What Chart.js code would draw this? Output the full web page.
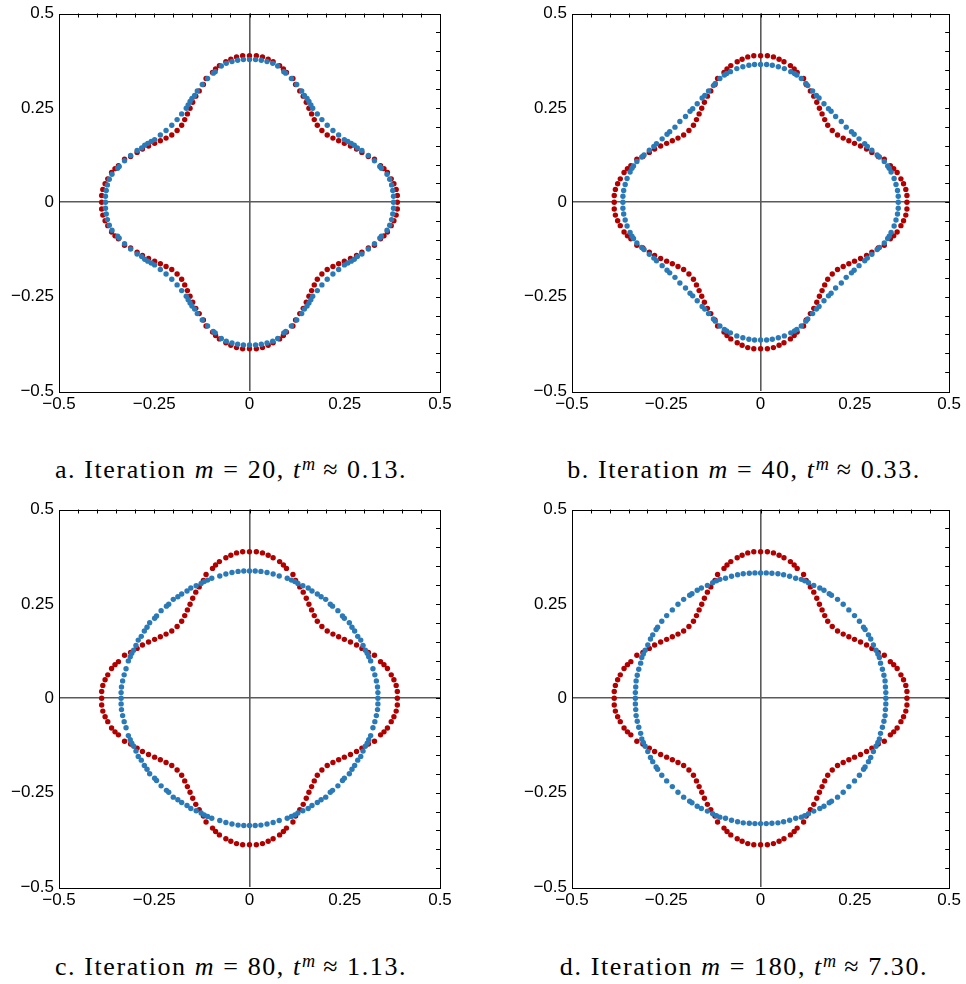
<!DOCTYPE html>
<html><head><meta charset="utf-8">
<script src="https://cdn.jsdelivr.net/npm/chart.js@4/dist/chart.umd.min.js"></script>
<style>
html,body{margin:0;padding:0;background:#fff;}
body{width:966px;height:984px;position:relative;overflow:hidden;}
canvas{position:absolute;}
.cap{position:absolute;width:480px;text-align:center;font-family:"Liberation Serif","Times New Roman",serif;font-size:26px;letter-spacing:1.6px;color:#000;white-space:nowrap;line-height:26px;}
.cap sup{font-size:0.7em;line-height:0;vertical-align:0.45em;letter-spacing:0;}
</style></head><body>
<canvas id="pa" width="483" height="420" style="left:0;top:0"></canvas>
<canvas id="pb" width="483" height="420" style="left:483px;top:0"></canvas>
<canvas id="pc" width="483" height="420" style="left:0;top:496px"></canvas>
<canvas id="pd" width="483" height="420" style="left:483px;top:496px"></canvas>
<div id="ca" class="cap" style="left:-9px;top:457px"></div>
<div id="cb" class="cap" style="left:504px;top:457px"></div>
<div id="cc" class="cap" style="left:-9px;top:954px"></div>
<div id="cd" class="cap" style="left:504px;top:954px"></div>
<script>
// ---- tick values / labels ----
const tickValues = [-0.5, -0.25, 0, 0.25, 0.5];
const tickLabels = ['\u22120.5', '\u22120.25', '0', '0.25', '0.5'];
const minorTickValues = [-0.45,-0.4,-0.35,-0.3,-0.25,-0.2,-0.15,-0.1,-0.05,0,0.05,0.1,0.15,0.2,0.25,0.3,0.35,0.4,0.45];

// ---- captions ----
const panelLetters = ['a', 'b', 'c', 'd'];
const iterationNumbers = [20, 40, 80, 180];
const iterationTimes = ['0.13', '0.33', '1.13', '7.30'];

// ---- initial shape (red), same in all panels ----
const initialShape = [
[0.388,0],[0.388,0.018],[0.385,0.034],[0.379,0.049],[0.372,0.062],[0.362,0.079],[0.353,0.089],[0.344,0.097],[0.328,0.114],[0.312,0.121],[0.295,0.132],[0.281,0.141],[0.265,0.149],[0.249,0.156],[0.234,0.163],[0.219,0.170],[0.204,0.178],[0.190,0.190],[0.178,0.204],[0.170,0.219],[0.163,0.234],[0.156,0.249],[0.149,0.265],[0.141,0.281],[0.132,0.295],[0.121,0.312],[0.114,0.328],[0.097,0.344],[0.089,0.353],[0.079,0.362],[0.062,0.372],[0.049,0.379],[0.034,0.385],[0.018,0.388],
[0,0.388],[-0.018,0.388],[-0.034,0.385],[-0.049,0.379],[-0.062,0.372],[-0.079,0.362],[-0.089,0.353],[-0.097,0.344],[-0.114,0.328],[-0.121,0.312],[-0.132,0.295],[-0.141,0.281],[-0.149,0.265],[-0.156,0.249],[-0.163,0.234],[-0.170,0.219],[-0.178,0.204],[-0.190,0.190],[-0.204,0.178],[-0.219,0.170],[-0.234,0.163],[-0.249,0.156],[-0.265,0.149],[-0.281,0.141],[-0.295,0.132],[-0.312,0.121],[-0.328,0.114],[-0.344,0.097],[-0.353,0.089],[-0.362,0.079],[-0.372,0.062],[-0.379,0.049],[-0.385,0.034],[-0.388,0.018],
[-0.388,0],[-0.388,-0.018],[-0.385,-0.034],[-0.379,-0.049],[-0.372,-0.062],[-0.362,-0.079],[-0.353,-0.089],[-0.344,-0.097],[-0.328,-0.114],[-0.312,-0.121],[-0.295,-0.132],[-0.281,-0.141],[-0.265,-0.149],[-0.249,-0.156],[-0.234,-0.163],[-0.219,-0.170],[-0.204,-0.178],[-0.190,-0.190],[-0.178,-0.204],[-0.170,-0.219],[-0.163,-0.234],[-0.156,-0.249],[-0.149,-0.265],[-0.141,-0.281],[-0.132,-0.295],[-0.121,-0.312],[-0.114,-0.328],[-0.097,-0.344],[-0.089,-0.353],[-0.079,-0.362],[-0.062,-0.372],[-0.049,-0.379],[-0.034,-0.385],[-0.018,-0.388],
[0,-0.388],[0.018,-0.388],[0.034,-0.385],[0.049,-0.379],[0.062,-0.372],[0.079,-0.362],[0.089,-0.353],[0.097,-0.344],[0.114,-0.328],[0.121,-0.312],[0.132,-0.295],[0.141,-0.281],[0.149,-0.265],[0.156,-0.249],[0.163,-0.234],[0.170,-0.219],[0.178,-0.204],[0.190,-0.190],[0.204,-0.178],[0.219,-0.170],[0.234,-0.163],[0.249,-0.156],[0.265,-0.149],[0.281,-0.141],[0.295,-0.132],[0.312,-0.121],[0.328,-0.114],[0.344,-0.097],[0.353,-0.089],[0.362,-0.079],[0.372,-0.062],[0.379,-0.049],[0.385,-0.034],[0.388,-0.018]
];

// ---- iterate m = 20 (blue, panel a) ----
const iterationM20 = [
[0.378,0],[0.378,0.016],[0.376,0.031],[0.373,0.046],[0.368,0.061],[0.361,0.074],[0.346,0.090],[0.342,0.095],[0.328,0.110],[0.312,0.124],[0.295,0.137],[0.283,0.144],[0.275,0.151],[0.267,0.156],[0.258,0.161],[0.249,0.166],[0.234,0.178],[0.219,0.190],[0.204,0.204],[0.190,0.219],[0.178,0.234],[0.166,0.249],[0.161,0.258],[0.156,0.267],[0.151,0.275],[0.144,0.283],[0.137,0.295],[0.124,0.312],[0.110,0.328],[0.095,0.342],[0.090,0.346],[0.074,0.361],[0.061,0.368],[0.046,0.373],[0.031,0.376],[0.016,0.378],
[0,0.378],[-0.016,0.378],[-0.031,0.376],[-0.046,0.373],[-0.061,0.368],[-0.074,0.361],[-0.090,0.346],[-0.095,0.342],[-0.110,0.328],[-0.124,0.312],[-0.137,0.295],[-0.144,0.283],[-0.151,0.275],[-0.156,0.267],[-0.161,0.258],[-0.166,0.249],[-0.178,0.234],[-0.190,0.219],[-0.204,0.204],[-0.219,0.190],[-0.234,0.178],[-0.249,0.166],[-0.258,0.161],[-0.267,0.156],[-0.275,0.151],[-0.283,0.144],[-0.295,0.137],[-0.312,0.124],[-0.328,0.110],[-0.342,0.095],[-0.346,0.090],[-0.361,0.074],[-0.368,0.061],[-0.373,0.046],[-0.376,0.031],[-0.378,0.016],
[-0.378,0],[-0.378,-0.016],[-0.376,-0.031],[-0.373,-0.046],[-0.368,-0.061],[-0.361,-0.074],[-0.346,-0.090],[-0.342,-0.095],[-0.328,-0.110],[-0.312,-0.124],[-0.295,-0.137],[-0.283,-0.144],[-0.275,-0.151],[-0.267,-0.156],[-0.258,-0.161],[-0.249,-0.166],[-0.234,-0.178],[-0.219,-0.190],[-0.204,-0.204],[-0.190,-0.219],[-0.178,-0.234],[-0.166,-0.249],[-0.161,-0.258],[-0.156,-0.267],[-0.151,-0.275],[-0.144,-0.283],[-0.137,-0.295],[-0.124,-0.312],[-0.110,-0.328],[-0.095,-0.342],[-0.090,-0.346],[-0.074,-0.361],[-0.061,-0.368],[-0.046,-0.373],[-0.031,-0.376],[-0.016,-0.378],
[0,-0.378],[0.016,-0.378],[0.031,-0.376],[0.046,-0.373],[0.061,-0.368],[0.074,-0.361],[0.090,-0.346],[0.095,-0.342],[0.110,-0.328],[0.124,-0.312],[0.137,-0.295],[0.144,-0.283],[0.151,-0.275],[0.156,-0.267],[0.161,-0.258],[0.166,-0.249],[0.178,-0.234],[0.190,-0.219],[0.204,-0.204],[0.219,-0.190],[0.234,-0.178],[0.249,-0.166],[0.258,-0.161],[0.267,-0.156],[0.275,-0.151],[0.283,-0.144],[0.295,-0.137],[0.312,-0.124],[0.328,-0.110],[0.342,-0.095],[0.346,-0.090],[0.361,-0.074],[0.368,-0.061],[0.373,-0.046],[0.376,-0.031],[0.378,-0.016]
];

// ---- iterate m = 40 (blue, panel b) ----
const iterationM40 = [
[0.365,0],[0.365,0.016],[0.363,0.031],[0.359,0.047],[0.354,0.063],[0.346,0.080],[0.341,0.090],[0.337,0.096],[0.328,0.108],[0.315,0.120],[0.309,0.125],[0.295,0.138],[0.283,0.148],[0.276,0.155],[0.261,0.168],[0.248,0.180],[0.241,0.187],[0.227,0.199],[0.214,0.214],[0.199,0.227],[0.187,0.241],[0.180,0.248],[0.168,0.261],[0.155,0.276],[0.148,0.283],[0.138,0.295],[0.125,0.309],[0.120,0.315],[0.108,0.328],[0.096,0.337],[0.090,0.341],[0.080,0.346],[0.063,0.354],[0.047,0.359],[0.031,0.363],[0.016,0.365],
[0,0.365],[-0.016,0.365],[-0.031,0.363],[-0.047,0.359],[-0.063,0.354],[-0.080,0.346],[-0.090,0.341],[-0.096,0.337],[-0.108,0.328],[-0.120,0.315],[-0.125,0.309],[-0.138,0.295],[-0.148,0.283],[-0.155,0.276],[-0.168,0.261],[-0.180,0.248],[-0.187,0.241],[-0.199,0.227],[-0.214,0.214],[-0.227,0.199],[-0.241,0.187],[-0.248,0.180],[-0.261,0.168],[-0.276,0.155],[-0.283,0.148],[-0.295,0.138],[-0.309,0.125],[-0.315,0.120],[-0.328,0.108],[-0.337,0.096],[-0.341,0.090],[-0.346,0.080],[-0.354,0.063],[-0.359,0.047],[-0.363,0.031],[-0.365,0.016],
[-0.365,0],[-0.365,-0.016],[-0.363,-0.031],[-0.359,-0.047],[-0.354,-0.063],[-0.346,-0.080],[-0.341,-0.090],[-0.337,-0.096],[-0.328,-0.108],[-0.315,-0.120],[-0.309,-0.125],[-0.295,-0.138],[-0.283,-0.148],[-0.276,-0.155],[-0.261,-0.168],[-0.248,-0.180],[-0.241,-0.187],[-0.227,-0.199],[-0.214,-0.214],[-0.199,-0.227],[-0.187,-0.241],[-0.180,-0.248],[-0.168,-0.261],[-0.155,-0.276],[-0.148,-0.283],[-0.138,-0.295],[-0.125,-0.309],[-0.120,-0.315],[-0.108,-0.328],[-0.096,-0.337],[-0.090,-0.341],[-0.080,-0.346],[-0.063,-0.354],[-0.047,-0.359],[-0.031,-0.363],[-0.016,-0.365],
[0,-0.365],[0.016,-0.365],[0.031,-0.363],[0.047,-0.359],[0.063,-0.354],[0.080,-0.346],[0.090,-0.341],[0.096,-0.337],[0.108,-0.328],[0.120,-0.315],[0.125,-0.309],[0.138,-0.295],[0.148,-0.283],[0.155,-0.276],[0.168,-0.261],[0.180,-0.248],[0.187,-0.241],[0.199,-0.227],[0.214,-0.214],[0.227,-0.199],[0.241,-0.187],[0.248,-0.180],[0.261,-0.168],[0.276,-0.155],[0.283,-0.148],[0.295,-0.138],[0.309,-0.125],[0.315,-0.120],[0.328,-0.108],[0.337,-0.096],[0.341,-0.090],[0.346,-0.080],[0.354,-0.063],[0.359,-0.047],[0.363,-0.031],[0.365,-0.016]
];

// ---- iterate m = 80 (blue, panel c) ----
const iterationM80 = [
[0.337,0],[0.337,0.015],[0.336,0.030],[0.333,0.046],[0.329,0.062],[0.324,0.078],[0.318,0.099],[0.313,0.110],[0.309,0.119],[0.304,0.127],[0.298,0.140],[0.292,0.154],[0.284,0.164],[0.276,0.178],[0.269,0.188],[0.262,0.200],[0.249,0.212],[0.244,0.218],[0.232,0.232],[0.218,0.244],[0.212,0.249],[0.200,0.262],[0.188,0.269],[0.178,0.276],[0.164,0.284],[0.154,0.292],[0.140,0.298],[0.127,0.304],[0.119,0.309],[0.110,0.313],[0.099,0.318],[0.078,0.324],[0.062,0.329],[0.046,0.333],[0.030,0.336],[0.015,0.337],
[0,0.337],[-0.015,0.337],[-0.030,0.336],[-0.046,0.333],[-0.062,0.329],[-0.078,0.324],[-0.099,0.318],[-0.110,0.313],[-0.119,0.309],[-0.127,0.304],[-0.140,0.298],[-0.154,0.292],[-0.164,0.284],[-0.178,0.276],[-0.188,0.269],[-0.200,0.262],[-0.212,0.249],[-0.218,0.244],[-0.232,0.232],[-0.244,0.218],[-0.249,0.212],[-0.262,0.200],[-0.269,0.188],[-0.276,0.178],[-0.284,0.164],[-0.292,0.154],[-0.298,0.140],[-0.304,0.127],[-0.309,0.119],[-0.313,0.110],[-0.318,0.099],[-0.324,0.078],[-0.329,0.062],[-0.333,0.046],[-0.336,0.030],[-0.337,0.015],
[-0.337,0],[-0.337,-0.015],[-0.336,-0.030],[-0.333,-0.046],[-0.329,-0.062],[-0.324,-0.078],[-0.318,-0.099],[-0.313,-0.110],[-0.309,-0.119],[-0.304,-0.127],[-0.298,-0.140],[-0.292,-0.154],[-0.284,-0.164],[-0.276,-0.178],[-0.269,-0.188],[-0.262,-0.200],[-0.249,-0.212],[-0.244,-0.218],[-0.232,-0.232],[-0.218,-0.244],[-0.212,-0.249],[-0.200,-0.262],[-0.188,-0.269],[-0.178,-0.276],[-0.164,-0.284],[-0.154,-0.292],[-0.140,-0.298],[-0.127,-0.304],[-0.119,-0.309],[-0.110,-0.313],[-0.099,-0.318],[-0.078,-0.324],[-0.062,-0.329],[-0.046,-0.333],[-0.030,-0.336],[-0.015,-0.337],
[0,-0.337],[0.015,-0.337],[0.030,-0.336],[0.046,-0.333],[0.062,-0.329],[0.078,-0.324],[0.099,-0.318],[0.110,-0.313],[0.119,-0.309],[0.127,-0.304],[0.140,-0.298],[0.154,-0.292],[0.164,-0.284],[0.178,-0.276],[0.188,-0.269],[0.200,-0.262],[0.212,-0.249],[0.218,-0.244],[0.232,-0.232],[0.244,-0.218],[0.249,-0.212],[0.262,-0.200],[0.269,-0.188],[0.276,-0.178],[0.284,-0.164],[0.292,-0.154],[0.298,-0.140],[0.304,-0.127],[0.309,-0.119],[0.313,-0.110],[0.318,-0.099],[0.324,-0.078],[0.329,-0.062],[0.333,-0.046],[0.336,-0.030],[0.337,-0.015]
];

// ---- iterate m = 180 (blue, panel d) ----
const iterationM180 = [
[0.332,0],[0.332,0.015],[0.331,0.030],[0.330,0.046],[0.327,0.061],[0.323,0.077],[0.318,0.093],[0.315,0.108],[0.311,0.117],[0.306,0.127],[0.299,0.141],[0.292,0.157],[0.286,0.168],[0.277,0.182],[0.273,0.188],[0.262,0.204],[0.249,0.219],[0.234,0.234],[0.219,0.249],[0.204,0.262],[0.188,0.273],[0.182,0.277],[0.168,0.286],[0.157,0.292],[0.141,0.299],[0.127,0.306],[0.117,0.311],[0.108,0.315],[0.093,0.318],[0.077,0.323],[0.061,0.327],[0.046,0.330],[0.030,0.331],[0.015,0.332],
[0,0.332],[-0.015,0.332],[-0.030,0.331],[-0.046,0.330],[-0.061,0.327],[-0.077,0.323],[-0.093,0.318],[-0.108,0.315],[-0.117,0.311],[-0.127,0.306],[-0.141,0.299],[-0.157,0.292],[-0.168,0.286],[-0.182,0.277],[-0.188,0.273],[-0.204,0.262],[-0.219,0.249],[-0.234,0.234],[-0.249,0.219],[-0.262,0.204],[-0.273,0.188],[-0.277,0.182],[-0.286,0.168],[-0.292,0.157],[-0.299,0.141],[-0.306,0.127],[-0.311,0.117],[-0.315,0.108],[-0.318,0.093],[-0.323,0.077],[-0.327,0.061],[-0.330,0.046],[-0.331,0.030],[-0.332,0.015],
[-0.332,0],[-0.332,-0.015],[-0.331,-0.030],[-0.330,-0.046],[-0.327,-0.061],[-0.323,-0.077],[-0.318,-0.093],[-0.315,-0.108],[-0.311,-0.117],[-0.306,-0.127],[-0.299,-0.141],[-0.292,-0.157],[-0.286,-0.168],[-0.277,-0.182],[-0.273,-0.188],[-0.262,-0.204],[-0.249,-0.219],[-0.234,-0.234],[-0.219,-0.249],[-0.204,-0.262],[-0.188,-0.273],[-0.182,-0.277],[-0.168,-0.286],[-0.157,-0.292],[-0.141,-0.299],[-0.127,-0.306],[-0.117,-0.311],[-0.108,-0.315],[-0.093,-0.318],[-0.077,-0.323],[-0.061,-0.327],[-0.046,-0.330],[-0.030,-0.331],[-0.015,-0.332],
[0,-0.332],[0.015,-0.332],[0.030,-0.331],[0.046,-0.330],[0.061,-0.327],[0.077,-0.323],[0.093,-0.318],[0.108,-0.315],[0.117,-0.311],[0.127,-0.306],[0.141,-0.299],[0.157,-0.292],[0.168,-0.286],[0.182,-0.277],[0.188,-0.273],[0.204,-0.262],[0.219,-0.249],[0.234,-0.234],[0.249,-0.219],[0.262,-0.204],[0.273,-0.188],[0.277,-0.182],[0.286,-0.168],[0.292,-0.157],[0.299,-0.141],[0.306,-0.127],[0.311,-0.117],[0.315,-0.108],[0.318,-0.093],[0.323,-0.077],[0.327,-0.061],[0.330,-0.046],[0.331,-0.030],[0.332,-0.015]
];

const iterates = [iterationM20, iterationM40, iterationM80, iterationM180];

const RED = '#b00000';
const BLUE = '#2a7ab8';
const tickFont = {family: '"Liberation Sans", Arial, Helvetica, sans-serif', size: 17, lineHeight: 1};

// frame + inward tick marks on top and right edges, placed through the chart's own scales
const frameTicks = {
  id: 'frameTicks',
  afterDraw(chart) {
    const ctx = chart.ctx, a = chart.chartArea, xs = chart.scales.x, ys = chart.scales.y;
    ctx.save();
    ctx.strokeStyle = '#000';
    ctx.lineWidth = 1;
    ctx.beginPath();
    minorTickValues.forEach(v => {
      const len = 4;
      const px = Math.round(xs.getPixelForValue(v)) + 0.5;
      ctx.moveTo(px, a.top); ctx.lineTo(px, a.top + len);
      const py = Math.round(ys.getPixelForValue(v)) + 0.5;
      ctx.moveTo(a.right, py); ctx.lineTo(a.right - len, py);
    });
    ctx.stroke();
    ctx.strokeRect(Math.round(a.left) + 0.5, Math.round(a.top) + 0.5,
                   Math.round(a.right - a.left), Math.round(a.bottom - a.top));
    ctx.restore();
  }
};

function zeroGrid(ctx) {
  return (ctx.tick && ctx.tick.value === 0) ? '#5a5a5a' : 'rgba(0,0,0,0)';
}

function makeChart(id, blueData, yAxisWidth, rightPad) {
  return new Chart(document.getElementById(id), {
    type: 'scatter',
    data: {
      datasets: [
        {data: blueData, backgroundColor: BLUE, borderWidth: 0, pointRadius: 2.7, pointHoverRadius: 2.7},
        {data: initialShape, backgroundColor: RED, borderWidth: 0, pointRadius: 2.7, pointHoverRadius: 2.7}
      ]
    },
    options: {
      responsive: false,
      animation: false,
      devicePixelRatio: 1,
      events: [],
      layout: {padding: {top: 10, right: rightPad, left: 0, bottom: 0}},
      plugins: {legend: {display: false}, tooltip: {enabled: false}},
      scales: {
        x: {
          type: 'linear', position: 'bottom', min: -0.5, max: 0.5,
          afterBuildTicks: s => { s.ticks = tickValues.map(v => ({value: v})); },
          afterFit: s => { s.height = 29; },
          ticks: {callback: (v, i) => tickLabels[i], font: tickFont, color: '#000', padding: 5, maxRotation: 0, autoSkip: false},
          grid: {color: zeroGrid, lineWidth: 1.6, drawTicks: false},
          border: {display: false}
        },
        y: {
          type: 'linear', position: 'left', min: -0.5, max: 0.5,
          afterBuildTicks: s => { s.ticks = tickValues.map(v => ({value: v})); },
          afterFit: s => { s.width = yAxisWidth; },
          ticks: {callback: (v, i) => tickLabels[i], font: tickFont, color: '#000', padding: 5, autoSkip: false},
          grid: {color: zeroGrid, lineWidth: 1.6, drawTicks: false},
          border: {display: false}
        }
      }
    },
    plugins: [frameTicks]
  });
}

makeChart('pa', iterates[0], 59, 43);
makeChart('pb', iterates[1], 89, 13);
makeChart('pc', iterates[2], 59, 43);
makeChart('pd', iterates[3], 89, 13);

['ca', 'cb', 'cc', 'cd'].forEach((id, i) => {
  document.getElementById(id).innerHTML =
    panelLetters[i] + '. Iteration <i>m</i> = ' + iterationNumbers[i] +
    ', <i>t</i><sup><i>m</i></sup> \u2248 ' + iterationTimes[i] + '.';
});
</script>
</body></html>
